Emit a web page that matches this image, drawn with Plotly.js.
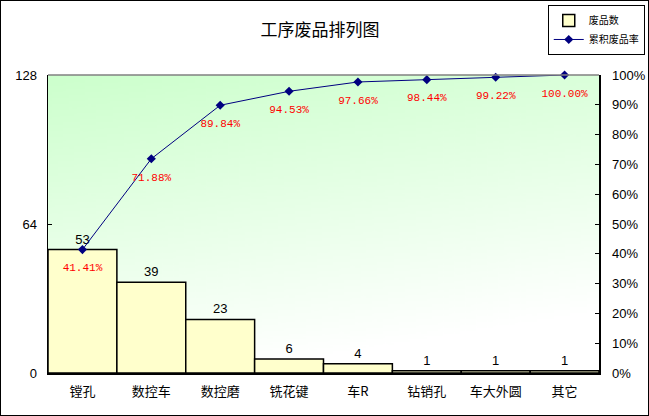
<!DOCTYPE html>
<html><head><meta charset="utf-8">
<script src="https://cdn.plot.ly/plotly-3.0.1.min.js"></script>
<style>html,body{margin:0;padding:0;background:#fff}#wrap{position:relative;width:649px;height:416px}#c{width:649px;height:416px}#frame{position:absolute;left:0;top:0;width:647px;height:414px;border:1px solid #000;pointer-events:none}</style>
</head><body><div id="wrap"><div id="c"></div><div id="frame"></div></div>
<script>
const categories = ['镗孔','数控车','数控磨','铣花键','车R','钻销孔','车大外圆','其它'];
const counts = [53, 39, 23, 6, 4, 1, 1, 1];
const cumulativePct = [0.4141, 0.7188, 0.8984, 0.9453, 0.9766, 0.9844, 0.9922, 1.0000];
const cumulativeLabels = ['41.41%','71.88%','89.84%','94.53%','97.66%','98.44%','99.22%','100.00%'];
const leftTicks = [0, 64, 128];
const seriesNames = ['废品数','累积废品率'];
const chartTitle = '工序废品排列图';

// gradient background image
const cv = document.createElement('canvas');
cv.width = 200; cv.height = 200;
const ctx = cv.getContext('2d');
const g = ctx.createLinearGradient(0, 0, 60, 200);
g.addColorStop(0, '#CCFFCC');
g.addColorStop(1, '#FFFFFF');
ctx.fillStyle = g; ctx.fillRect(0, 0, 200, 200);
const bg = cv.toDataURL('image/png');

const cjk = '"Noto Sans CJK SC", "Liberation Sans", sans-serif';
const traces = [
  {type:'bar', x:categories, y:counts, name:seriesNames[0],
   marker:{color:'#FFFFCC', line:{color:'#000', width:1.5}},
   text:counts.map(String), textposition:'outside', cliponaxis:false,
   textfont:{family:'"Liberation Sans", Arial', size:13, color:'#000'}},
  {type:'scatter', mode:'lines+markers', x:categories, y:cumulativePct, yaxis:'y2', name:seriesNames[1],
   line:{color:'#000080', width:1}, marker:{symbol:'diamond', size:7, color:'#000080'}, cliponaxis:false},
  {type:'scatter', mode:'markers+text', x:categories, y:cumulativePct, yaxis:'y2', showlegend:false,
   marker:{size:20, opacity:0}, text:cumulativeLabels, textposition:'bottom center', cliponaxis:false,
   textfont:{family:'"Liberation Mono", "DejaVu Sans Mono", monospace', size:11, color:'#FF0000'}}
];
const layout = {
  width:649, height:416,
  margin:{l:48, r:50, t:75, b:43, autoexpand:false},
  paper_bgcolor:'#fff', plot_bgcolor:'rgba(0,0,0,0)',
  title:{text:chartTitle, xref:'container', x:0.493, y:0.928, yanchor:'middle', font:{family:cjk, size:17, color:'#000'}},
  bargap:0,
  showlegend:true,
  legend:{x:0.907, y:1.235, xanchor:'left', yanchor:'top', bgcolor:'#fff', bordercolor:'#000', borderwidth:1,
          font:{family:cjk, size:10, color:'#000'}, tracegroupgap:0, itemwidth:30},
  xaxis:{range:[-0.5, categories.length - 0.5], showline:true, linecolor:'#000', linewidth:1.5, ticks:'inside', tickson:'boundaries', ticklen:3, tickcolor:'#000',
         ticklabelstandoff:6,
         tickfont:{family:cjk, size:13, color:'#000'}, showgrid:false, fixedrange:true},
  yaxis:{range:[0,128], tickvals:leftTicks, ticks:'inside', ticklen:4, tickcolor:'#000', showline:true, linecolor:'#000', linewidth:1.5,
         ticklabelstandoff:7,
         showgrid:false, zeroline:false, tickfont:{family:'"Liberation Sans", Arial', size:13, color:'#000'}},
  yaxis2:{range:[0,1], overlaying:'y', side:'right', dtick:0.1, tickformat:'.0%', ticks:'inside', ticklen:4, tickcolor:'#000',
          showline:true, linecolor:'#000', linewidth:1.5, showgrid:false, zeroline:false, ticklabelstandoff:9,
          tickfont:{family:'"Liberation Sans", Arial', size:13, color:'#000'}},
  images:[{source:bg, xref:'paper', yref:'paper', x:0, y:1, sizex:1, sizey:1, sizing:'stretch', layer:'below'}],
  shapes:[{type:'line', xref:'paper', yref:'paper', x0:0, x1:1, y0:1, y1:1, line:{color:'#808080', width:1.5}}]
};
Plotly.newPlot('c', traces, layout, {displayModeBar:false, staticPlot:true});
</script></body></html>
